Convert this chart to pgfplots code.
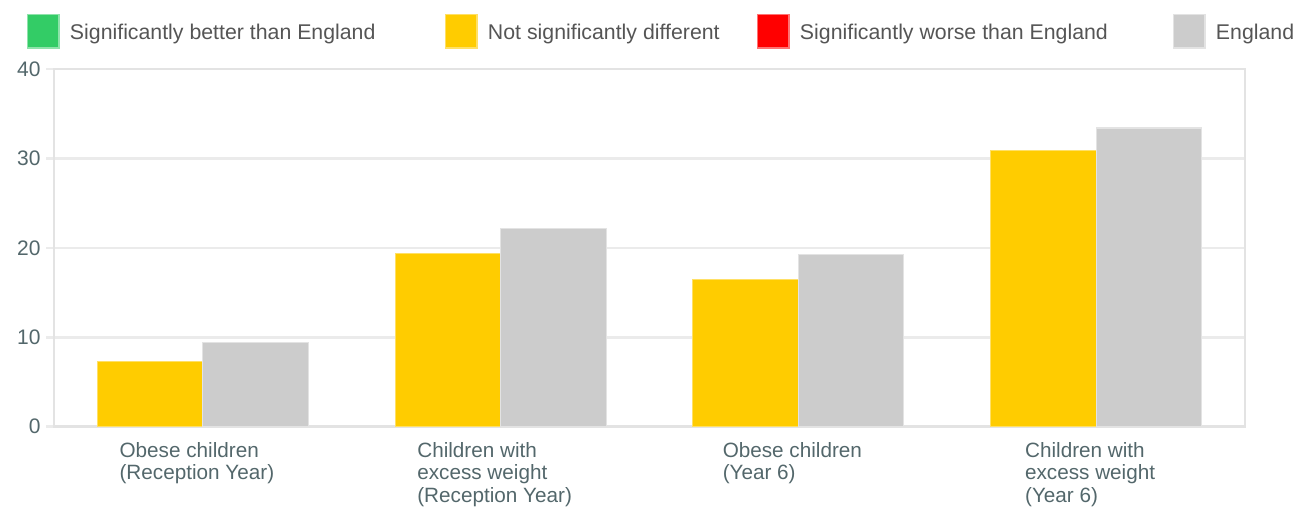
\documentclass[border=0pt]{standalone}
\usepackage{fontspec}
\setmainfont{Liberation Sans}
\usepackage{pgfplots}
\usepackage{pgfplotstable}
\pgfplotsset{compat=1.18}

\definecolor{better}{HTML}{33CC66}
\definecolor{similar}{HTML}{FFCC00}
\definecolor{worse}{HTML}{FF0000}
\definecolor{england}{HTML}{CCCCCC}
\definecolor{gridgray}{HTML}{EBEBEB}
\definecolor{framegray}{HTML}{E3E3E3}
\definecolor{labelslate}{HTML}{53676B}
\definecolor{legendtext}{HTML}{555555}

% Prevalence (%) by measure: local area and England
\pgfplotstableread{
x   area  england
0.5  7.3   9.4
1.5 19.4  22.2
2.5 16.5  19.3
3.5 30.9  33.4
}\obesity

\pgfplotsset{
  square legend/.style={legend image code/.code={%
    \draw[##1, line width=1.5pt] (0.75pt,-15.5pt) rectangle (32.25pt,18pt);}},
}

\begin{document}
\begin{tikzpicture}[x=1pt,y=1pt]
\useasboundingbox (0,0) rectangle (1311,506);
\clip (0,0) rectangle (1311,506);
\begin{axis}[
  at={(54pt,79.3pt)}, anchor=south west,
  scale only axis, width=1191pt, height=357.7pt,
  xmin=0, xmax=4, ymin=0, ymax=40,
  ytick={0,10,20,30,40},
  xtick=data,
  xticklabels={{Obese children\\(Reception Year)},
               {Children with\\excess weight\\(Reception Year)},
               {Obese children\\(Year 6)},
               {Children with\\excess weight\\(Year 6)}},
  ybar=0pt, bar width=105.5pt,
  ymajorgrids, grid style={draw=gridgray, line width=2.5pt},
  axis line style={draw=framegray, line width=2.5pt},
  major tick length=8pt, tick align=outside,
  ytick pos=left, xtick pos=bottom,
  ytick style={draw=gridgray, line width=2.5pt},
  xtick style={draw=none},
  yticklabel style={font=\fontsize{21}{24}\selectfont, text=labelslate,
    xshift=-2pt, /pgf/number format/assume math mode=true},
  xticklabel style={font=\fontsize{20.7}{22.6}\selectfont, text=labelslate,
    align=left, anchor=north, yshift=-4pt, xshift=-6pt},
  legend columns=4,
  legend style={at={(-0.02267,1.1538)}, anchor=north west,
    draw=none, fill=none, inner sep=0pt, outer sep=0pt, column sep=10pt,
    nodes={inner sep=0pt, outer sep=0pt},
    font=\fontsize{21.3}{24}\selectfont, text=legendtext},
]
\addlegendimage{square legend, fill=better, draw=better!55!white}
\addlegendentry{\makebox[365pt][l]{Significantly better than England}}
\addplot[square legend, fill=similar, draw=similar!60!white, line width=1.2pt,
  bar shift=-52.75pt] table[x=x, y=area] {\obesity};
\addlegendentry{\makebox[259pt][l]{Not significantly different}}
\addlegendimage{square legend, fill=worse, draw=worse!55!white}
\addlegendentry{\makebox[363pt][l]{Significantly worse than England}}
\addplot[square legend, fill=england, draw=framegray, line width=1.2pt,
  bar shift=52.75pt] table[x=x, y=england] {\obesity};
\addlegendentry{England}
\end{axis}
\end{tikzpicture}
\end{document}
